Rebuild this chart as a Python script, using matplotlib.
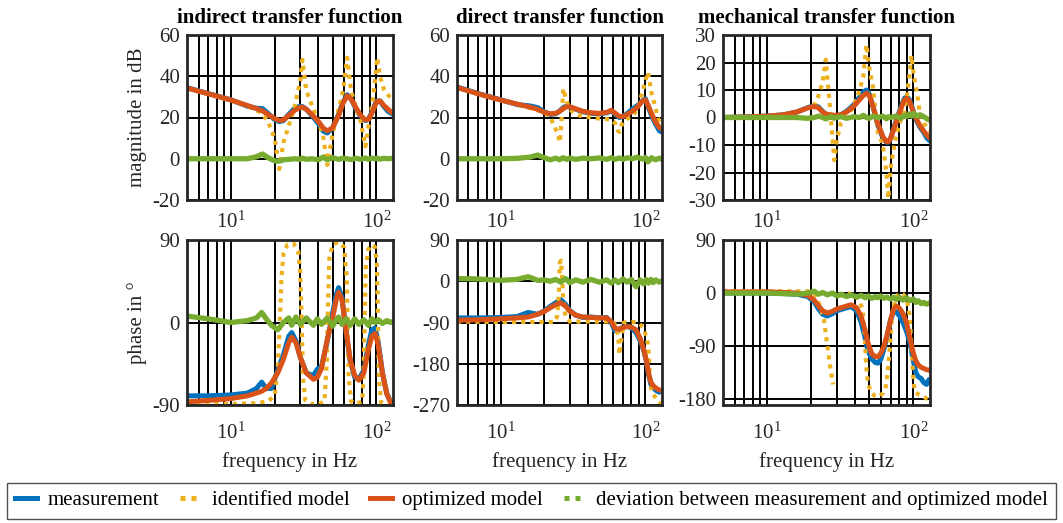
import numpy as np
import matplotlib
matplotlib.use('Agg')
import matplotlib.pyplot as plt
from matplotlib.lines import Line2D
from matplotlib.ticker import FixedLocator, NullFormatter

plt.rcParams['font.family'] = ['Liberation Serif', 'DejaVu Serif']
plt.rcParams['mathtext.fontset'] = 'custom'
plt.rcParams['mathtext.rm'] = 'Liberation Serif'
plt.rcParams['mathtext.it'] = 'Liberation Serif:italic'
plt.rcParams['mathtext.bf'] = 'Liberation Serif:bold'

# --- indirect transfer function, magnitude (dB) ---
f_mag_ind = [5, 7, 10, 13, 15, 16.5, 18, 20, 21.5, 23, 25, 27.5, 30, 31, 33, 36, 40, 43, 46, 50,
             55, 59, 63, 67, 72, 78, 84, 88, 93, 98, 101, 106, 112, 120, 130]
meas_mag_ind = [34.5, 31.6, 28.6, 25.5, 24.5, 24.3, 22, 19, 18, 18.5, 21.5, 24.5, 25.5, 25.3, 24, 21, 17, 13.5,
                12.5, 15, 21.5, 27.5, 31, 29, 24.5, 20.5, 18.5, 19, 22.5, 26.5, 28, 28, 25.5, 23, 21.5]
ident_mag_ind = [34, 31.3, 28.2, 25.5, 23.5, 22, 18, 10, -5, 8, 16, 25.5, 38, 48, 33, 26, 18, 11.5, -3, 12,
                 24, 33, 49, 33, 25, 18, 6, 15, 25, 38, 49, 40, 34, 31, 28]
opt_mag_ind = [34.3, 31.5, 28.5, 25.8, 24.3, 23.2, 21.5, 19.5, 18.5, 18.8, 21, 23.5, 25, 25, 24, 21.5, 18, 15,
               13.5, 15, 21, 27, 30.5, 29, 25, 21, 18.8, 19, 22, 26, 27.8, 28, 26, 24, 22]
dev_mag_ind = [0, 0, 0, 0, 1, 2.3, 0.5, -1, -1.2, -0.5, -0.3, 0, -0.3, 0.3, -0.3, 0, -0.5, 0.8, -0.5, 0.5,
               -0.3, 0.3, 0, -0.4, 0.3, -0.3, 0.4, -0.3, 0.3, 0, 0.3, -0.2, 0.2, 0, 0.3]

# --- direct transfer function, magnitude (dB) ---
f_mag_dir = [5, 7, 10, 13, 16, 18, 20, 22, 24, 25.5, 27, 28.5, 30, 33, 37, 42, 48, 54, 58, 62, 66, 70,
             75, 81, 88, 95, 100, 104, 110, 117, 125, 130]
meas_mag_dir = [34.8, 31.6, 28.6, 26.3, 25.6, 24.8, 22.8, 21.5, 21.8, 23, 24.8, 25.5, 25.2, 24, 22.8, 22,
                21.8, 22.3, 23.2, 21.5, 20, 20.5, 22, 24, 25.8, 28, 29, 25.5, 21, 17, 13.5, 13]
opt_mag_dir = [34.6, 31.5, 28.5, 26.5, 25, 24, 22.5, 21.8, 22, 23, 24.3, 25.2, 25.2, 24.2, 23, 22.3, 22,
               22.5, 23.5, 22, 20.5, 20.5, 21.5, 23, 25, 28, 28.5, 26, 22, 18, 15, 14.5]
dev_mag_dir = [0, 0, 0, 0.2, 0.8, 1.8, 0.5, -0.5, 0.3, -0.5, 0.5, -0.3, 0.4, -0.3, 0.3, 0, 0.4, -0.3, 0.5,
               -0.3, 0.4, -0.3, 0.5, 0, 0.8, -0.2, 0.6, -1.5, 0.5, -0.5, 0.3, -0.3]
f_id_mag_dir = [5, 7, 10, 13, 16, 18, 20, 22, 23.3, 24.5, 25.7, 26.4, 27.1, 28.5, 30, 33, 37, 42, 48, 54,
                58, 62, 64.5, 66, 68, 71, 75, 81, 88, 95, 100, 104, 110, 117, 125, 130]
ident_mag_dir = [34.4, 31.3, 28.3, 26.3, 24.5, 23.5, 22.3, 20.5, 16, 13, 8, 20, 34, 28, 24, 21.5, 20.5, 20,
                 19.5, 19.2, 19, 17, 13.5, 13, 16, 18.5, 19.5, 20.5, 24, 32, 38, 42, 32, 25, 17, 15]

# --- mechanical transfer function, magnitude (dB) ---
f_mag_mech = [5, 7, 10, 13, 16, 19, 21, 22.5, 24, 25.2, 26.5, 27.5, 28.8, 30, 32, 35, 39, 43, 45.5, 47.8,
              50, 53, 57, 62, 65.5, 67.5, 70, 76, 82, 87, 90, 94, 97, 101, 106, 111, 118, 124, 130]
meas_mag_mech = [0, 0.2, 0.5, 1, 2, 3.6, 4.3, 3.8, 2.2, 1.2, 0.8, 0.6, 0.5, 0.6, 1, 2.3, 4.5, 7.5, 9.3, 10,
                 8.5, 4, -2.5, -7.5, -9, -9, -7.5, -1.5, 3.5, 7, 7.5, 6.5, 4.5, 1.5, -1.5, -3.5, -5.5, -7.5, -8.5]
ident_mag_mech = [0, 0.2, 0.5, 1, 2, 3.5, 4.5, 8, 13, 21, 8, -2, -15.5, -8, -2, 0, 4, 10, 15, 26.5,
                  18, 11, -5, -10, -20, -29.5, -18, -7, -1, 2, 7, 15, 22.5, 15, 9, 1, -2, -4, -5]
opt_mag_mech = [0, 0.2, 0.5, 1, 2, 3.5, 4, 3.5, 2, 1.3, 1, 0.9, 0.8, 0.8, 1, 2, 4, 6.5, 8, 8.8,
                8, 4, -2, -7, -8.8, -8.8, -7.5, -2, 3, 6.5, 7, 6, 4, 1.5, -1, -3, -5, -6.5, -7.5]
dev_mag_mech = [0, 0, 0, 0, 0, -0.3, 0, 0.5, 0, -0.5, 0, 0.3, -0.3, 0, 0.3, -0.3, 0.3, 0, 0.8, 0,
                -0.3, 0.5, 0, 0.5, -0.5, 0.3, 0, 0.5, -0.3, 0.8, 0.3, 1.3, 0.5, 1.5, 0.5, 1, 0.3, -0.5, -1]

# --- indirect transfer function, phase (deg) ---
f_ph_ind = [5, 7, 10, 13, 15, 16.3, 17.5, 19, 21, 23, 25, 26.2, 28, 30, 33, 36.9, 39.2, 42, 46, 50,
            53, 55, 58, 62, 66, 71, 75.7, 82, 88, 93, 98, 103, 110, 118, 125, 130]
meas_ph_ind = [-80, -80, -79, -77, -72, -65, -72, -72, -52, -35, -15, -11, -20, -38, -55, -58, -51, -48, -20, 10,
               30, 38, 27, -10, -42, -60, -62, -52, -25, -8, -6, -22, -55, -78, -86, -88]
opt_ph_ind = [-86.5, -85, -83, -80, -77, -75, -72, -66, -55, -40, -22, -16, -22, -38, -55, -62, -60, -50, -18, 5,
              25, 33, 25, -10, -40, -58, -63, -55, -30, -15, -12, -25, -55, -78, -87, -89]
dev_ph_ind = [7, 4, 0, 2, 5, 11, 4, -3, -8, 0, 5, -3, 6, -2, 5, -3, 4, -2, 5, -4,
              3, 6, -2, 4, -3, 4, -2, 3, -3, 4, 0, 3, -1, 2, 0, 1]
f_id_ph_ind = [5, 10, 15, 18, 20, 21, 21.7, 22.3, 23, 24.5, 27, 29, 30, 30.7, 31.3, 32.5, 35, 40, 44, 45.7,
               46.5, 47.5, 50, 55, 60, 62.5, 63.5, 64.5, 67, 72, 80, 81.5, 83, 84.5, 88, 93, 98, 101, 102.5,
               104, 108, 120, 130]
ident_ph_ind = [-89, -89, -88, -86, -80, -50, 0, 50, 75, 85, 86, 78, 55, 0, -60, -85, -89, -89, -86, -40,
                20, 70, 85, 88, 82, 50, 0, -60, -86, -89, -86, -60, 0, 60, 80, 85, 82, 60, 0,
                -60, -88, -90, -90]

# --- direct transfer function, phase (deg) ---
f_ph_dir = [5, 7, 10, 13, 15.5, 18, 20, 22, 24, 26, 28, 30, 33, 37, 42, 48, 54, 58, 61.5, 65, 70, 75, 80,
            86, 92, 97, 101, 105, 109, 113, 118, 124, 130]
meas_ph_dir = [-80, -80, -79, -77, -68, -72, -65, -55, -47, -40, -50, -64, -74, -79, -78, -80, -79, -90, -108,
               -106, -100, -98, -102, -112, -130, -150, -172, -203, -225, -232, -238, -242, -240]
opt_ph_dir = [-85, -84, -82, -80, -78, -72, -66, -58, -51, -47, -54, -65, -74, -78, -79, -80, -80, -88, -102,
              -105, -101, -99, -100, -106, -125, -148, -170, -200, -220, -228, -233, -237, -238]
dev_ph_dir = [6, 5, 2, 4, 10, 2, 3, 0, 4, -2, 6, -3, 3, -2, 4, -2, 3, -4, 3, -3, 5, -2, 4, -12, 3, -6, 4,
              -4, 4, -3, 3, -2, 1]
f_id_ph_dir = [5, 10, 15, 20, 23.5, 24.6, 25.2, 25.6, 26.1, 26.6, 27.1, 28, 30, 40, 50, 57, 61, 64.8, 66,
               68.5, 71, 80, 88, 96, 101, 104, 106, 107.5, 112, 122, 130]
ident_ph_dir = [-88, -89, -89, -89, -89, -76, -30, 40, 45, 10, -44, -75, -88, -88, -88, -88, -92, -117, -160,
                -120, -90, -89, -89, -100, -120, -138, -170, -225, -245, -261, -270]

# --- mechanical transfer function, phase (deg) ---
f_ph_mech = [5, 7, 10, 13, 16, 19, 21, 22.5, 24, 25.8, 28, 30, 32, 35, 37.6, 41, 44, 47, 49, 52, 55, 57.3,
             60, 63, 66, 70, 73, 76.6, 80, 85, 89.8, 95, 100, 104, 108, 113, 118, 123, 128, 130]
meas_ph_mech = [0, 0, 0, -1, -2, -6, -15, -27, -36, -39, -35, -30, -28, -25, -23, -30, -50, -78, -98, -112,
                -118, -119, -112, -95, -75, -45, -33, -32, -38, -50, -65, -85, -115, -135, -142, -145, -152,
                -155, -147, -148]
opt_ph_mech = [2, 2, 2, 1, 0, -4, -12, -22, -30, -34, -31, -27, -25, -22, -20, -25, -40, -65, -85, -103,
               -108, -108, -102, -90, -72, -45, -28, -22, -25, -35, -50, -78, -102, -115, -122, -126, -128,
               -130, -131, -131]
dev_ph_mech = [0, 0, 0, -1, -2, 0, 3, -2, 1, -3, 0, -5, -2, -6, -3, -7, -4, -8, -5, -9, -6, -8, -5, -9,
               -7, -10, -7, -11, -7, -12, -8, -13, -10, -16, -13, -18, -16, -19, -17, -18]
f_id_ph_mech = [5, 10, 15, 19, 21, 22, 23.3, 24.5, 25.8, 27, 28.3, 29, 31, 35, 40, 43, 45, 46.5, 47.5, 49,
                52, 55, 58, 62, 65, 67, 69, 71, 75, 80, 85, 90, 94, 96, 98, 100, 102, 108, 118, 125, 130]
ident_ph_mech = [3, 3, 3, 3, 0, -11, -25, -45, -88, -125, -155, np.nan, -5, 0, -3, -12, -30, -70, -120, -155,
                 -170, -175, -176, -170, -158, -130, -95, -50, -10, 0, -2, -10, -36, -70, -110, -145, -166,
                 -172, -176, -180, -182]

titles = ['indirect transfer function', 'direct transfer function', 'mechanical transfer function']
legend_labels = ['measurement', 'identified model', 'optimized model',
                 'deviation between measurement and optimized model']

C_MEAS = '#0072BD'
C_ID = '#EDB120'
C_OPT = '#D95319'
C_DEV = '#77AC30'
TXT = '#262626'
FS = 15

panels = [
    (f_mag_ind, meas_mag_ind, opt_mag_ind, dev_mag_ind, f_mag_ind, ident_mag_ind, (-20, 60), [-20, 0, 20, 40, 60]),
    (f_mag_dir, meas_mag_dir, opt_mag_dir, dev_mag_dir, f_id_mag_dir, ident_mag_dir, (-20, 60), [-20, 0, 20, 40, 60]),
    (f_mag_mech, meas_mag_mech, opt_mag_mech, dev_mag_mech, f_mag_mech, ident_mag_mech, (-30, 30),
     [-30, -20, -10, 0, 10, 20, 30]),
    (f_ph_ind, meas_ph_ind, opt_ph_ind, dev_ph_ind, f_id_ph_ind, ident_ph_ind, (-90, 90), [-90, 0, 90]),
    (f_ph_dir, meas_ph_dir, opt_ph_dir, dev_ph_dir, f_id_ph_dir, ident_ph_dir, (-270, 90), [-270, -180, -90, 0, 90]),
    (f_ph_mech, meas_ph_mech, opt_ph_mech, dev_ph_mech, f_id_ph_mech, ident_ph_mech, (-190, 90), [-180, -90, 0, 90]),
]

W, H = 1063, 523
fig = plt.figure(figsize=(W / 100, H / 100), dpi=100)

col_x = [(187, 393), (457, 662), (723, 930)]
row_y = [(35, 200), (240, 405)]

minor_f = [6, 7, 8, 9, 20, 30, 40, 50, 60, 70, 80, 90]

for i, (f, meas, opt, dev, f_id, ident, ylim, yticks) in enumerate(panels):
    r, c = divmod(i, 3)
    x0, x1 = col_x[c]
    y0, y1 = row_y[r]
    ax = fig.add_axes([x0 / W, (H - y1) / H, (x1 - x0) / W, (y1 - y0) / H])
    ax.plot(f, meas, color=C_MEAS, lw=3.6)
    ax.plot(f_id, ident, color=C_ID, lw=3.0, ls=(0, (1, 1.2)))
    ax.plot(f, opt, color=C_OPT, lw=3.6)
    ax.plot(f, dev, color=C_DEV, lw=3.8)
    ax.set_xscale('log')
    ax.set_xlim(5, 130)
    ax.set_ylim(*ylim)
    ax.set_yticks(yticks)
    ax.set_yticklabels([str(t) for t in yticks])
    ax.set_xticks([10, 100])
    ax.set_xticklabels([r'$10^1$', r'$10^2$'])
    ax.xaxis.set_minor_locator(FixedLocator(minor_f))
    ax.xaxis.set_minor_formatter(NullFormatter())
    ax.set_axisbelow(True)
    ax.grid(True, which='both', axis='x', color='black', lw=1.4)
    ax.grid(True, which='major', axis='y', color='black', lw=1.4)
    for s in ax.spines.values():
        s.set_linewidth(2.0)
        s.set_color(TXT)
    ax.tick_params(which='both', length=0, labelsize=FS, labelcolor=TXT)
    ax.tick_params(axis='y', pad=5)
    ax.tick_params(axis='x', pad=8 if r == 0 else 13)
    if r == 0:
        ax.set_title(titles[c], fontsize=FS, fontweight='bold', pad=9)
    if c == 0:
        ax.set_ylabel('magnitude in dB' if r == 0 else 'phase in \u00b0', fontsize=FS, color=TXT, labelpad=4)
    if r == 1:
        ax.set_xlabel('frequency in Hz', fontsize=FS, color=TXT, labelpad=6)

handles = [
    Line2D([], [], color=C_MEAS, lw=3.6),
    Line2D([], [], color=C_ID, lw=3.6, ls=(0, (1, 1.2))),
    Line2D([], [], color=C_OPT, lw=3.6),
    Line2D([], [], color=C_DEV, lw=3.6, ls=(0, (1, 1.2))),
]
leg = fig.legend(handles, legend_labels, loc='lower center', bbox_to_anchor=(0.5, 0.004), ncol=4,
                 fontsize=FS, frameon=True, fancybox=False, edgecolor=TXT, handlelength=1.05,
                 handletextpad=0.48, columnspacing=1.0, borderpad=0.4, borderaxespad=0.1)
leg.get_frame().set_linewidth(1.0)

fig.savefig('out.png', dpi=100)
